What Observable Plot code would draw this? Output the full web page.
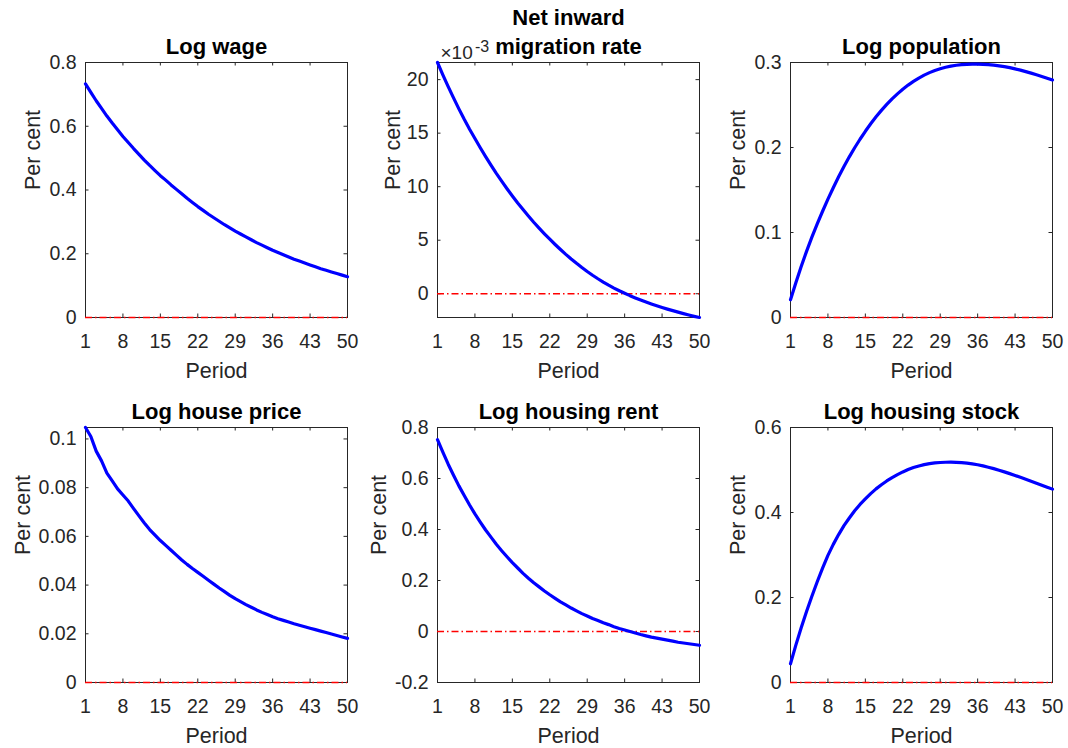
<!DOCTYPE html>
<html>
<head>
<meta charset="utf-8">
<script src="https://cdn.jsdelivr.net/npm/d3@7"></script>
<script src="https://cdn.jsdelivr.net/npm/@observablehq/plot@0.6"></script>
<style>
  body { margin: 0; background: #fff; }
  #fig { position: relative; width: 1068px; height: 748px; overflow: hidden; background: #fff; }
  #fig svg { position: absolute; }
</style>
</head>
<body>
<div id="fig"></div>
<script>
// Impulse responses over 50 periods, in per cent deviations.
const periods = d3.range(1, 51);
const xTicks = [1, 8, 15, 22, 29, 36, 43, 50];

const logWage = [
  0.733, 0.706, 0.680, 0.656, 0.632, 0.610, 0.589, 0.568, 0.549, 0.530,
  0.512, 0.494, 0.477, 0.461, 0.445, 0.431, 0.416, 0.402, 0.388, 0.374,
  0.361, 0.348, 0.336, 0.324, 0.313, 0.302, 0.291, 0.281, 0.271, 0.262,
  0.253, 0.244, 0.235, 0.227, 0.219, 0.211, 0.204, 0.197, 0.190, 0.183,
  0.177, 0.171, 0.165, 0.159, 0.153, 0.148, 0.143, 0.138, 0.133, 0.128
];

// Net inward migration rate, in units of 10^-3 per cent
const migrationRate = [
  21.60, 20.45, 19.35, 18.29, 17.27, 16.29, 15.37, 14.50, 13.64, 12.81,
  12.02, 11.25, 10.52, 9.81, 9.13, 8.48, 7.86, 7.26, 6.68, 6.13,
  5.60, 5.09, 4.60, 4.13, 3.68, 3.25, 2.84, 2.45, 2.08, 1.73,
  1.40, 1.09, 0.80, 0.53, 0.28, 0.05, -0.18, -0.39, -0.59, -0.78,
  -0.96, -1.13, -1.29, -1.44, -1.58, -1.72, -1.86, -1.99, -2.11, -2.22
];

const logPopulation = [
  0.0208, 0.0410, 0.0600, 0.0778, 0.0945, 0.1102, 0.1250, 0.1392, 0.1527, 0.1655,
  0.1776, 0.1890, 0.1997, 0.2097, 0.2191, 0.2279, 0.2361, 0.2437, 0.2507, 0.2572,
  0.2631, 0.2685, 0.2734, 0.2778, 0.2817, 0.2851, 0.2881, 0.2906, 0.2927, 0.2944,
  0.2958, 0.2968, 0.2975, 0.2979, 0.2981, 0.2981, 0.2979, 0.2975, 0.2969, 0.2961,
  0.2951, 0.2939, 0.2925, 0.2910, 0.2893, 0.2875, 0.2856, 0.2836, 0.2815, 0.2793
];

const logHousePrice = [
  0.1047, 0.1010, 0.0950, 0.0910, 0.0860, 0.0828, 0.0795, 0.0770, 0.0745, 0.0714,
  0.0684, 0.0655, 0.0628, 0.0605, 0.0583, 0.0563, 0.0543, 0.0523, 0.0503, 0.0485,
  0.0468, 0.0452, 0.0436, 0.0420, 0.0404, 0.0388, 0.0373, 0.0358, 0.0344, 0.0332,
  0.0320, 0.0309, 0.0298, 0.0288, 0.0279, 0.0270, 0.0262, 0.0255, 0.0248, 0.0241,
  0.0235, 0.0229, 0.0223, 0.0217, 0.0211, 0.0205, 0.0199, 0.0193, 0.0187, 0.0181
];

const logHousingRent = [
  0.752, 0.703, 0.656, 0.613, 0.571, 0.533, 0.496, 0.461, 0.429, 0.398,
  0.370, 0.342, 0.317, 0.293, 0.270, 0.249, 0.228, 0.209, 0.191, 0.175,
  0.159, 0.144, 0.130, 0.116, 0.104, 0.092, 0.081, 0.070, 0.061, 0.051,
  0.043, 0.034, 0.027, 0.019, 0.012, 0.006, 0.000, -0.006, -0.012, -0.017,
  -0.022, -0.026, -0.030, -0.034, -0.038, -0.042, -0.045, -0.048, -0.051, -0.054
];

const logHousingStock = [
  0.044, 0.088, 0.129, 0.167, 0.203, 0.237, 0.269, 0.299, 0.325, 0.348,
  0.369, 0.387, 0.404, 0.419, 0.432, 0.4445, 0.4556, 0.4654, 0.4742, 0.4821,
  0.4892, 0.4955, 0.5010, 0.5057, 0.5095, 0.5126, 0.5150, 0.5167, 0.5177, 0.5182,
  0.5183, 0.5180, 0.5172, 0.5160, 0.5144, 0.5124, 0.5097, 0.5066, 0.5032, 0.4995,
  0.4956, 0.4915, 0.4872, 0.4828, 0.4783, 0.4737, 0.4691, 0.4644, 0.4597, 0.4550
];

const titles = [
  "Log wage", "Net inward\nmigration rate", "Log population",
  "Log house price", "Log housing rent", "Log housing stock"
];
const yTickSets = [
  [0, 0.2, 0.4, 0.6, 0.8],
  [0, 5, 10, 15, 20],
  [0, 0.1, 0.2, 0.3],
  [0, 0.02, 0.04, 0.06, 0.08, 0.1],
  [-0.2, 0, 0.2, 0.4, 0.6, 0.8],
  [0, 0.2, 0.4, 0.6]
];
const xLabel = "Period";
const yLabel = "Per cent";
const exponentBase = "\u00d710";
const exponentPower = "-3";

const series = [logWage, migrationRate, logPopulation, logHousePrice, logHousingRent, logHousingStock];
const yDomains = [
  [0, 0.8],
  d3.extent(migrationRate),
  [0, 0.3],
  [0, d3.max(logHousePrice)],
  [-0.2, 0.8],
  [0, 0.6]
];

// Grid geometry of the 2 x 3 subplot layout
const colLeft = [85, 437, 790];
const rowTop = [62, 427];
const boxW = 262, boxH = 255;
const M = {left: 80, right: 16, top: 64, bottom: 70};
const yLabelGap = [46, 38, 45.5, 56, 51.5, 45.5];
const tick = 3.5;
const axisColor = "#262626";
const font = "'Liberation Sans', Arial, Helvetica, sans-serif";

const fig = document.getElementById("fig");

series.forEach((values, k) => {
  const col = k % 3, row = Math.floor(k / 3);
  const table = values.map((v, i) => ({period: periods[i], value: v}));
  const marks = [
    Plot.frame({stroke: axisColor, strokeWidth: 1}),
    // inward tick marks on all four sides
    Plot.tickX(xTicks, {x: d => d, stroke: axisColor, insetTop: boxH - tick}),
    Plot.tickX(xTicks, {x: d => d, stroke: axisColor, insetBottom: boxH - tick}),
    Plot.tickY(yTickSets[k], {y: d => d, stroke: axisColor, insetRight: boxW - tick}),
    Plot.tickY(yTickSets[k], {y: d => d, stroke: axisColor, insetLeft: boxW - tick}),
    Plot.ruleY([0], {stroke: "#ff0000", strokeWidth: 1.3, strokeDasharray: "7,3,1.5,3"}),
    Plot.line(table, {x: "period", y: "value", stroke: "#0000ff", strokeWidth: 3.2, strokeLinejoin: "round"}),
    Plot.text([titles[k]], {
      text: d => d, frameAnchor: "top", dy: -8.5, lineAnchor: "bottom",
      fontSize: 22, fontWeight: "bold", fill: "#000", lineHeight: 1.34
    }),
    Plot.text([xLabel], {
      text: d => d, frameAnchor: "bottom", dy: 60, lineAnchor: "bottom",
      fontSize: 21.5, fill: axisColor
    }),
    Plot.text([yLabel], {
      text: d => d, frameAnchor: "left", dx: -yLabelGap[k], rotate: -90,
      lineAnchor: "bottom", fontSize: 21.5, fill: axisColor
    })
  ];
  if (k === 1) {
    marks.push(
      Plot.text([exponentBase], {
        text: d => d, frameAnchor: "top-left", dx: 3, dy: -4, textAnchor: "start",
        lineAnchor: "bottom", fontSize: 19, fill: axisColor
      }),
      Plot.text([exponentPower], {
        text: d => d, frameAnchor: "top-left", dx: 37.5, dy: -10.5, textAnchor: "start",
        lineAnchor: "bottom", fontSize: 16, fill: axisColor
      })
    );
  }
  const svg = Plot.plot({
    width: boxW + M.left + M.right,
    height: boxH + M.top + M.bottom,
    marginLeft: M.left, marginRight: M.right, marginTop: M.top, marginBottom: M.bottom,
    style: {fontFamily: font, fontSize: "19.5px", color: axisColor, background: "none", overflow: "visible"},
    x: {domain: [1, 50], ticks: xTicks, tickFormat: d => String(d), tickSize: 0, tickPadding: 16.5, label: null},
    y: {domain: yDomains[k], ticks: yTickSets[k], tickFormat: d => String(d), tickSize: 0, tickPadding: 9, label: null},
    marks
  });
  svg.style.left = (colLeft[col] - M.left) + "px";
  svg.style.top = (rowTop[row] - M.top) + "px";
  fig.appendChild(svg);
});
</script>
</body>
</html>
